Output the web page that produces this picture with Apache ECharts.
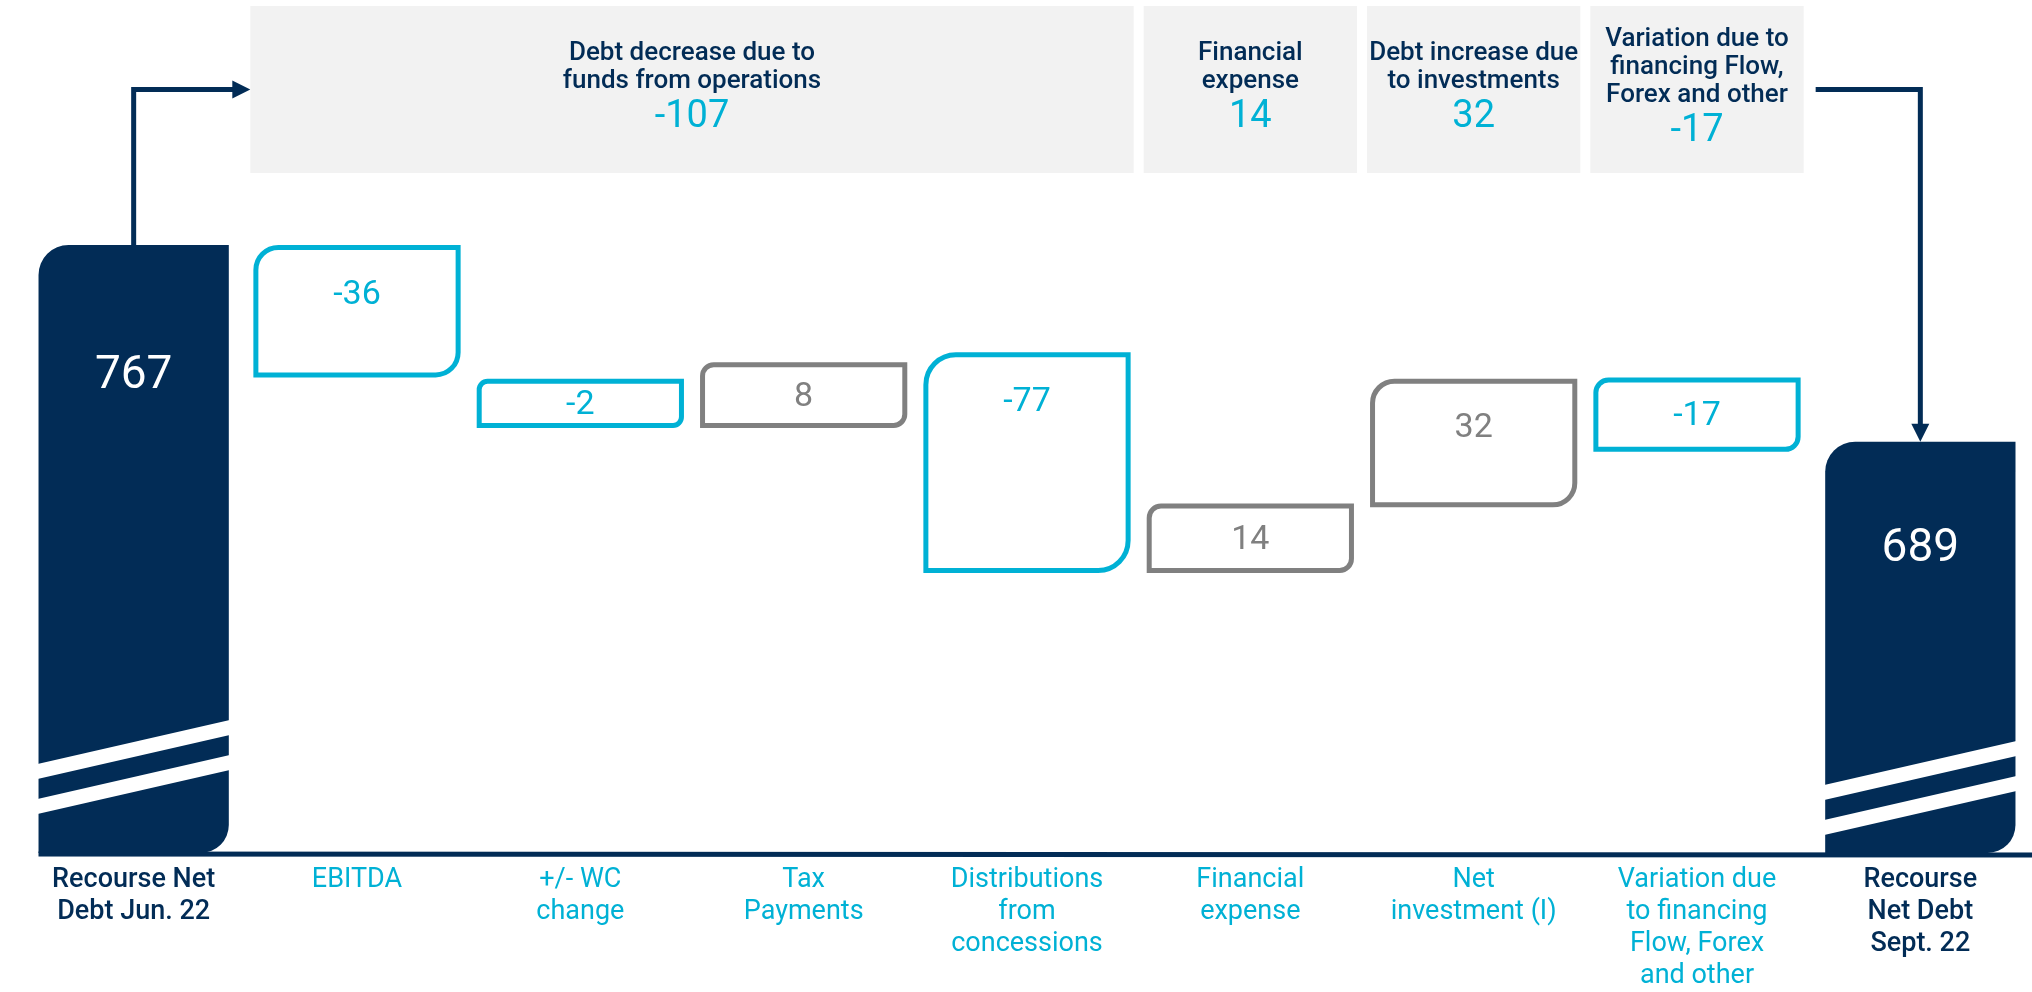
<!DOCTYPE html>
<html>
<head>
<meta charset="utf-8">
<script src="https://cdn.jsdelivr.net/npm/echarts@6/dist/echarts.min.js"></script>
<style>
  html, body { margin: 0; padding: 0; background: #fff; }
  #chart { width: 2032px; height: 992px; }
</style>
</head>
<body>
<div id="chart"></div>
<script>
// categories along the bottom
const categories = [
  'Recourse Net\nDebt Jun. 22',
  'EBITDA',
  '+/- WC\nchange',
  'Tax\nPayments',
  'Distributions\nfrom\nconcessions',
  'Financial\nexpense',
  'Net\ninvestment (I)',
  'Variation due\nto financing\nFlow, Forex\nand other',
  'Recourse\nNet Debt\nSept. 22'
];
// printed values
const values = [767, -36, -2, 8, -77, 14, 32, -17, 689];
const isTotal = [true, false, false, false, false, false, false, false, true];
// the picture is not to scale: extents of each bar as drawn, in debt units
const axisMin = 526;
const drawnHigh = [767, 767, 714, 720.5, 724.5, 664.5, 714, 714.5, 689];
const drawnLow = [axisMin, 714.5, 694.5, 694.5, 637, 637, 663, 685, axisMin];

// grey header groups
const groupTitles = [
  'Debt decrease due to\nfunds from operations',
  'Financial\nexpense',
  'Debt increase due\nto investments',
  'Variation due to\nfinancing Flow,\nForex and other'
];
const groupValues = [-107, 14, 32, -17];
const groupFrom = [1, 5, 6, 7];
const groupTo = [4, 5, 6, 7];

const NAVY = '#022c56';
const CYAN = '#00b1d5';
const GRAY = '#808080';
const FONT = 'Roboto, "Noto Sans", sans-serif';

// white break stripes on the total bars (px above the base line) and label offset from bar top
const stripeOffsets = { 0: [89, 54], 8: [68, 33] };
const totalLabelOffset = { 0: 131, 8: 108 };

const chart = echarts.init(document.getElementById('chart'));

function renderStep(params, api) {
  const i = api.value(0);
  const lo = api.coord([i, api.value(1)]);
  const hi = api.coord([i, api.value(2)]);
  const band = api.size([1, 0])[0];
  const cx = hi[0];
  const top = hi[1];
  const bottom = lo[1];
  const h = bottom - top;
  const v = values[i];
  const children = [];

  if (isTotal[i]) {
    const w = band * 0.852;
    const x0 = cx - w / 2;
    const x1 = cx + w / 2;
    children.push({
      type: 'rect',
      shape: { x: x0, y: top, width: w, height: h, r: [30, 0, 28, 0] },
      style: { fill: NAVY }
    });
    stripeOffsets[i].forEach(function (off) {
      children.push({
        type: 'polygon',
        shape: {
          points: [
            [x0 - 1, bottom - off],
            [x1 + 1, bottom - off - 44],
            [x1 + 1, bottom - off - 44 + 15],
            [x0 - 1, bottom - off + 15]
          ]
        },
        style: { fill: '#fff' }
      });
    });
    children.push({
      type: 'text',
      style: {
        text: String(v), x: cx, y: top + totalLabelOffset[i],
        align: 'center', verticalAlign: 'middle',
        fill: '#fff', fontSize: 46, fontFamily: FONT
      }
    });
  } else {
    const w = band * 0.928;
    const lw = 5;
    const color = v < 0 ? CYAN : GRAY;
    const rr = Math.max(8, Math.min(30, h * 0.17));
    children.push({
      type: 'rect',
      shape: { x: cx - w / 2 + lw / 2, y: top + lw / 2, width: w - lw, height: h - lw, r: [rr, 0, rr, 0] },
      style: { fill: '#fff', stroke: color, lineWidth: lw }
    });
    children.push({
      type: 'text',
      style: {
        text: String(v), x: cx, y: Math.min(top + h / 2 + 2, top + 50),
        align: 'center', verticalAlign: 'middle',
        fill: color, fontSize: 34, fontFamily: FONT
      }
    });
  }
  return { type: 'group', children: children };
}

function renderGroup(params, api) {
  const k = api.value(2);
  const a = api.coord([api.value(0), 0]);
  const b = api.coord([api.value(1), 1]);
  const band = api.size([1, 0])[0];
  const x0 = a[0] - band / 2 + 5;
  const x1 = b[0] + band / 2 - 5;
  const titleLines = groupTitles[k].split('\n').map(function (s) { return '{t|' + s + '}'; }).join('\n');
  return {
    type: 'group',
    children: [
      {
        type: 'rect',
        shape: { x: x0, y: b[1], width: x1 - x0, height: a[1] - b[1] },
        style: { fill: '#f2f2f2' }
      },
      {
        type: 'text',
        style: {
          text: titleLines + '\n{v|' + groupValues[k] + '}',
          x: (x0 + x1) / 2, y: (a[1] + b[1]) / 2,
          align: 'center', verticalAlign: 'middle',
          rich: {
            t: { fontSize: 26, lineHeight: 28, fontWeight: 500, fill: NAVY, fontFamily: FONT, align: 'center' },
            v: { fontSize: 38, lineHeight: 44, fill: CYAN, fontFamily: FONT, align: 'center' }
          }
        }
      }
    ]
  };
}

chart.setOption({
  animation: false,
  backgroundColor: '#fff',
  grid: [
    { left: 22, width: 2018, top: 245, bottom: 136 },
    { left: 22, width: 2018, top: 6, height: 167 }
  ],
  xAxis: [
    {
      type: 'category',
      gridIndex: 0,
      data: categories.map(function (c, i) {
        return {
          value: c,
          textStyle: { color: isTotal[i] ? NAVY : CYAN, fontWeight: isTotal[i] ? 500 : 400 }
        };
      }),
      axisLine: { show: false },
      axisTick: { show: false },
      axisLabel: { interval: 0, fontSize: 27, lineHeight: 32, margin: 11, fontFamily: FONT }
    },
    {
      type: 'category',
      gridIndex: 1,
      data: categories,
      show: false
    }
  ],
  yAxis: [
    { type: 'value', gridIndex: 0, min: axisMin, max: 767, show: false },
    { type: 'value', gridIndex: 1, min: 0, max: 1, show: false }
  ],
  series: [
    {
      type: 'custom',
      xAxisIndex: 0,
      yAxisIndex: 0,
      renderItem: renderStep,
      data: values.map(function (v, i) { return [i, drawnLow[i], drawnHigh[i]]; })
    },
    {
      type: 'custom',
      xAxisIndex: 1,
      yAxisIndex: 1,
      renderItem: renderGroup,
      data: groupFrom.map(function (f, k) { return [f, groupTo[k], k]; })
    }
  ]
});

// connector arrows and the base line, placed from the chart's own scales
const last = categories.length - 1;
const startTop = chart.convertToPixel({ seriesIndex: 0 }, [0, drawnHigh[0]]);
const startBase = chart.convertToPixel({ seriesIndex: 0 }, [0, axisMin]);
const nextTop = chart.convertToPixel({ seriesIndex: 0 }, [1, drawnHigh[0]]);
const endTop = chart.convertToPixel({ seriesIndex: 0 }, [last, drawnHigh[last]]);
const c1 = chart.convertToPixel({ seriesIndex: 1 }, [groupFrom[0], 0.5]);
const cEnd = chart.convertToPixel({ seriesIndex: 1 }, [groupTo[groupTo.length - 1], 0.5]);
const bandPx = nextTop[0] - startTop[0];
const midY = c1[1];
const headLeft = c1[0] - bandPx / 2 + 5;
const headRight = cEnd[0] + bandPx / 2 - 5 + 12;
const lineStyle = { stroke: NAVY, lineWidth: 5, fill: null, lineJoin: 'miter' };

chart.setOption({
  graphic: [
    { type: 'line', shape: { x1: startBase[0] - bandPx * 0.426, y1: startBase[1] + 1, x2: 2032, y2: startBase[1] + 2 }, style: { stroke: NAVY, lineWidth: 5 } },
    { type: 'polyline', shape: { points: [[startTop[0], startTop[1]], [startTop[0], midY], [headLeft - 16, midY]] }, style: lineStyle },
    { type: 'polygon', shape: { points: [[headLeft - 18, midY - 9], [headLeft, midY], [headLeft - 18, midY + 9]] }, style: { fill: NAVY } },
    { type: 'polyline', shape: { points: [[headRight, midY], [endTop[0], midY], [endTop[0], endTop[1] - 16]] }, style: lineStyle },
    { type: 'polygon', shape: { points: [[endTop[0] - 9, endTop[1] - 18], [endTop[0] + 9, endTop[1] - 18], [endTop[0], endTop[1]]] }, style: { fill: NAVY } }
  ]
});
</script>
</body>
</html>
